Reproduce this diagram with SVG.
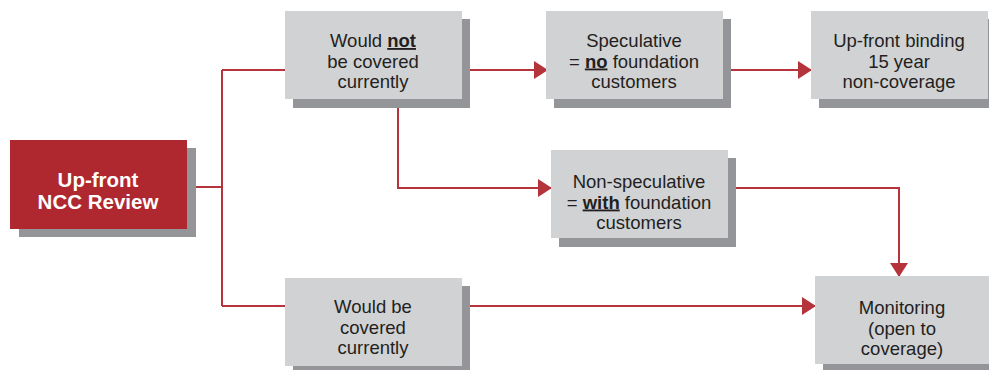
<svg xmlns="http://www.w3.org/2000/svg" width="989" height="370" viewBox="0 0 989 370">
<style>
.box{fill:#d1d2d4}
.sh{fill:#939598}
.red{fill:#b0282f}
.t{font-family:"Liberation Sans",Arial,sans-serif;font-size:18.5px;fill:#231f20;text-anchor:middle}
.tw{font-family:"Liberation Sans",Arial,sans-serif;font-size:20.5px;font-weight:bold;fill:#ffffff;text-anchor:middle}
.b{font-weight:bold;text-decoration:underline}
.c{fill:none;stroke:#b5333a;stroke-width:2}
</style>
<defs>
<marker id="ah" markerUnits="userSpaceOnUse" markerWidth="14" markerHeight="18" refX="13" refY="9" orient="auto">
<path d="M0,0 L14,9 L0,18 z" fill="#b5333a"/>
</marker>
</defs>
<rect width="989" height="370" fill="#ffffff"/>
<g id="connectors">
<path class="c" d="M196,187 H222"/>
<path class="c" d="M222,70 V306"/>
<path class="c" d="M222,70 H285"/>
<path class="c" d="M222,306 H285"/>
<path class="c" d="M470,70 H547" marker-end="url(#ah)"/>
<path class="c" d="M731,70 H811" marker-end="url(#ah)"/>
<path class="c" d="M398,108 V188 H551" marker-end="url(#ah)"/>
<path class="c" d="M736,188 H899 V276" marker-end="url(#ah)"/>
<path class="c" d="M470,306 H815" marker-end="url(#ah)"/>
</g>
<g id="review">
<rect class="sh" x="19" y="148" width="177" height="89"/>
<rect class="red" x="10" y="140" width="177" height="89"/>
<text class="tw" x="98" y="187">Up-front</text>
<text class="tw" x="98" y="209">NCC Review</text>
</g>
<g id="not-covered">
<rect class="sh" x="293" y="19" width="177" height="89"/>
<rect class="box" x="285" y="11" width="177" height="88"/>
<text class="t" x="373" y="47">Would <tspan class="b">not</tspan></text>
<text class="t" x="373" y="67.5">be covered</text>
<text class="t" x="373" y="88">currently</text>
</g>
<g id="speculative">
<rect class="sh" x="554" y="19" width="177" height="89"/>
<rect class="box" x="546" y="11" width="177" height="88"/>
<text class="t" x="634" y="47">Speculative</text>
<text class="t" x="634" y="67.5">= <tspan class="b">no</tspan> foundation</text>
<text class="t" x="634" y="88">customers</text>
</g>
<g id="binding">
<rect class="sh" x="819" y="19" width="177" height="89"/>
<rect class="box" x="811" y="11" width="177" height="88"/>
<text class="t" x="899" y="47">Up-front binding</text>
<text class="t" x="899" y="67.5">15 year</text>
<text class="t" x="899" y="88">non-coverage</text>
</g>
<g id="non-speculative">
<rect class="sh" x="559" y="158" width="177" height="89"/>
<rect class="box" x="551" y="150" width="177" height="88"/>
<text class="t" x="639" y="188">Non-speculative</text>
<text class="t" x="639" y="208.5">= <tspan class="b">with</tspan> foundation</text>
<text class="t" x="639" y="229">customers</text>
</g>
<g id="covered">
<rect class="sh" x="293" y="286" width="177" height="89"/>
<rect class="box" x="285" y="278" width="177" height="88"/>
<text class="t" x="373" y="313">Would be</text>
<text class="t" x="373" y="333.5">covered</text>
<text class="t" x="373" y="354">currently</text>
</g>
<g id="monitoring">
<rect class="sh" x="823" y="284" width="177" height="89"/>
<rect class="box" x="815" y="276" width="177" height="88"/>
<text class="t" x="902" y="314">Monitoring</text>
<text class="t" x="902" y="334.5">(open to</text>
<text class="t" x="902" y="355">coverage)</text>
</g>
</svg>
